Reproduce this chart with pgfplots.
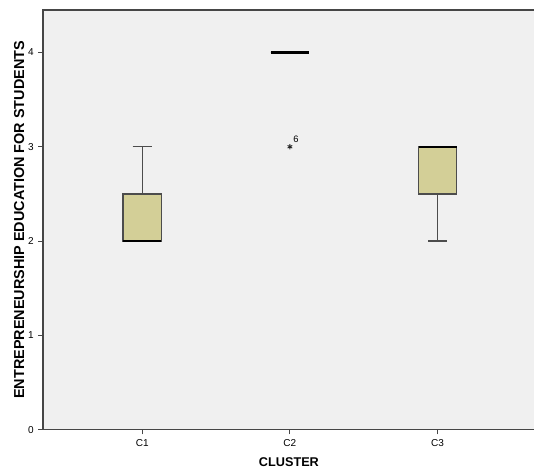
\documentclass[border=0pt]{standalone}
\usepackage{fontspec}
\setmainfont{Liberation Sans}
\usepackage{pgfplots}
\pgfplotsset{compat=1.18}
\usepgfplotslibrary{statistics}
\definecolor{boxfill}{RGB}{211,207,151}
\definecolor{bg}{RGB}{240,240,240}
\definecolor{axgray}{RGB}{70,70,70}
\begin{document}
\begin{tikzpicture}
\begin{axis}[
  scale only axis,
  width=368.25pt, height=314.25pt,
  xmin=0.329, xmax=3.658,
  ymin=0, ymax=4.45,
  xtick={1,2,3}, xticklabels={C1,C2,C3},
  ytick={0,1,2,3,4},
  xtick pos=bottom, ytick pos=left,
  tick align=outside,
  major tick length=3.5pt,
  tick style={axgray, line width=0.8pt},
  axis line style={axgray, line width=1.1pt},
  axis background/.style={fill=bg},
  tick label style={font=\fontsize{7.5}{8}\selectfont},
  /pgf/number format/assume math mode=true,
  xlabel={\textbf{CLUSTER}},
  ylabel={\textbf{ENTREPRENEURSHIP EDUCATION FOR STUDENTS}},
  xlabel style={font=\fontsize{9.5}{11}\selectfont, yshift=-2pt},
  ylabel style={font=\fontsize{10.8}{12}\selectfont, yshift=-4pt},
  boxplot/draw direction=y,
  boxplot/box extend=0.258,
  boxplot/whisker extend=0.129,
  clip=false,
]
% C1
\addplot[draw=black!70, line width=1pt, fill=boxfill,
  boxplot prepared={draw position=1, lower whisker=2, lower quartile=2,
    median=2, upper quartile=2.5, upper whisker=3},
  boxplot/every median/.style={draw=black, line width=1.6pt}] coordinates {};
% C2
\addplot[draw=black!70, line width=1pt, fill=boxfill,
  boxplot prepared={draw position=2, lower whisker=4, lower quartile=4,
    median=4, upper quartile=4, upper whisker=4},
  boxplot/every median/.style={draw=black, line width=1.6pt}] coordinates {};
% C3
\addplot[draw=black!70, line width=1pt, fill=boxfill,
  boxplot prepared={draw position=3, lower whisker=2, lower quartile=2.5,
    median=3, upper quartile=3, upper whisker=3},
  boxplot/every median/.style={draw=black, line width=1.6pt}] coordinates {};
% outlier
\addplot[only marks, mark=asterisk, mark size=2pt, black!85, line width=0.7pt,
  nodes near coords={6}, every node near coord/.style={font=\fontsize{7}{8}\selectfont, anchor=south west, xshift=-1pt, yshift=-0.5pt, black}]
  coordinates {(2,3)};
\end{axis}
\pgfresetboundingbox
\path[use as bounding box] ([shift={(-32.25pt,-34.5pt)}]current axis.south west) rectangle ([shift={(-0.6pt,7.5pt)}]current axis.north east);
\end{tikzpicture}
\end{document}
